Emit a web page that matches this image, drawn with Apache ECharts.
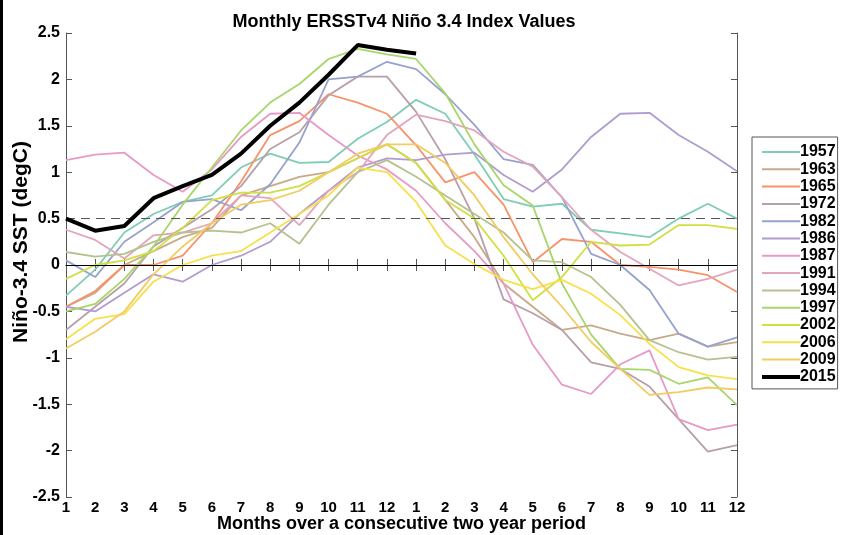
<!DOCTYPE html>
<html>
<head>
<meta charset="utf-8">
<script src="https://cdn.jsdelivr.net/npm/echarts@6/dist/echarts.min.js"></script>
<style>
  html, body { margin: 0; padding: 0; background: #fff; }
  #edge { position: absolute; left: 0; top: 0; width: 3px; height: 535px; background: #000; }
  #chart { width: 845px; height: 535px; }
</style>
</head>
<body>
<div id="chart"></div>
<div id="edge"></div>
<script>
// month index across the two years, and the label printed under each tick
var months = [1,2,3,4,5,6,7,8,9,10,11,12,13,14,15,16,17,18,19,20,21,22,23,24];
var monthLabels = [1,2,3,4,5,6,7,8,9,10,11,12,1,2,3,4,5,6,7,8,9,10,11,12];

var years = ['1957','1963','1965','1972','1982','1986','1987','1991','1994','1997','2002','2006','2009','2015'];
var colors = ['#7fcdb5','#c9a98a','#f7936a','#b7a0a8','#96a3cc','#b09ccf','#e79ac8','#e3a5bd',
              '#b5c290','#a8d66a','#d0e040','#f8e04a','#f2cc60','#000000'];

var v1957 = [-0.33,-0.05,0.35,0.55,0.68,0.75,1.05,1.2,1.1,1.11,1.36,1.54,1.78,1.63,1.19,0.71,0.63,0.66,0.38,0.34,0.3,0.5,0.66,0.5];
var v1963 = [-0.45,-0.3,0.0,0.15,0.3,0.4,0.75,0.85,0.95,1.0,1.15,1.3,1.1,0.7,0.3,-0.2,-0.45,-0.7,-0.65,-0.74,-0.81,-0.74,-0.88,-0.83];
var v1965 = [-0.45,-0.28,0.0,0.0,0.1,0.45,0.9,1.4,1.55,1.84,1.75,1.63,1.29,0.89,1.0,0.65,0.03,0.28,0.25,0.0,-0.02,-0.05,-0.11,-0.29];
var v1972 = [-0.7,-0.45,-0.2,0.2,0.4,0.6,0.85,1.25,1.43,1.83,2.03,2.03,1.65,1.14,0.5,-0.37,-0.52,-0.7,-1.05,-1.12,-1.31,-1.66,-2.01,-1.94];
var v1982 = [0.05,-0.13,0.25,0.46,0.68,0.71,0.59,0.87,1.32,2.0,2.03,2.19,2.11,1.84,1.51,1.14,1.08,0.73,0.12,0.0,-0.27,-0.74,-0.88,-0.78];
var v1986 = [-0.45,-0.5,-0.3,-0.1,-0.18,0.0,0.1,0.25,0.55,0.8,1.05,1.15,1.13,1.19,1.21,0.97,0.79,1.03,1.38,1.63,1.64,1.4,1.22,1.01];
var v1987 = [1.13,1.19,1.21,0.97,0.79,1.03,1.38,1.63,1.64,1.4,1.18,1.03,0.8,0.45,0.15,-0.2,-0.86,-1.29,-1.39,-1.07,-0.92,-1.66,-1.78,-1.72];
var v1991 = [0.38,0.27,0.07,0.32,0.35,0.45,0.75,0.72,0.43,0.8,1.0,1.4,1.62,1.55,1.45,1.22,1.06,0.73,0.38,0.14,-0.04,-0.22,-0.15,-0.05];
var v1994 = [0.14,0.09,0.12,0.25,0.35,0.37,0.35,0.45,0.23,0.65,1.0,1.13,0.95,0.75,0.55,0.35,0.05,0.03,-0.13,-0.43,-0.81,-0.94,-1.02,-0.99];
var v1997 = [-0.5,-0.42,-0.15,0.2,0.65,1.05,1.45,1.75,1.95,2.22,2.33,2.27,2.22,1.85,1.3,0.86,0.64,-0.2,-0.75,-1.12,-1.13,-1.28,-1.21,-1.51];
var v2002 = [-0.15,0.0,0.05,0.15,0.4,0.7,0.78,0.78,0.85,1.0,1.15,1.3,1.1,0.7,0.5,0.1,-0.38,-0.13,0.25,0.21,0.22,0.43,0.43,0.39];
var v2006 = [-0.8,-0.58,-0.53,-0.18,0.0,0.1,0.15,0.35,0.55,0.75,1.05,1.0,0.68,0.21,0.01,-0.16,-0.26,-0.16,-0.31,-0.54,-0.85,-1.1,-1.19,-1.23];
var v2009 = [-0.9,-0.72,-0.5,-0.1,0.2,0.45,0.65,0.7,0.8,1.0,1.2,1.3,1.3,1.1,0.75,0.3,-0.1,-0.45,-0.83,-1.12,-1.4,-1.37,-1.32,-1.34];
var v2015 = [0.5,0.37,0.42,0.72,0.85,0.97,1.2,1.5,1.75,2.05,2.37,2.32,2.28];

var values = [v1957,v1963,v1965,v1972,v1982,v1986,v1987,v1991,v1994,v1997,v2002,v2006,v2009,v2015];

var yTicks = [-2.5,-2,-1.5,-1,-0.5,0,0.5,1,1.5,2,2.5];
var elNinoThreshold = 0.5;

var font = 'Liberation Sans, Arial, sans-serif';
var chart = echarts.init(document.getElementById('chart'), null, { renderer: 'canvas' });

var series = years.map(function (y, i) {
  return {
    name: y,
    type: 'line',
    symbol: 'none',
    z: y === '2015' ? 5 : 3,
    lineStyle: { color: colors[i], width: y === '2015' ? 4 : 1.8 },
    itemStyle: { color: colors[i] },
    data: values[i].map(function (v, k) { return [months[k], v]; })
  };
});

// zero line and dashed 0.5 threshold
series.push({
  name: 'ref',
  type: 'line',
  data: [],
  markLine: {
    silent: true,
    symbol: 'none',
    label: { show: false },
    data: [
      { yAxis: 0, lineStyle: { color: '#000', type: 'solid', width: 1 } },
      { yAxis: elNinoThreshold, lineStyle: { color: '#555', type: [9, 6], width: 1.2 } }
    ]
  }
});

// thin swatch for the past years, thick one for 2015
var legendItems = years.map(function (y) {
  return y === '2015'
    ? { name: y, icon: 'path://M0,6 L38,6 L38,10 L0,10 Z' }
    : { name: y, icon: 'path://M0,7 L38,7 L38,9 L0,9 Z' };
});

var option = {
  animation: false,
  backgroundColor: '#fff',
  title: {
    text: 'Monthly ERSSTv4 Niño 3.4 Index Values',
    left: 399, top: 8, textAlign: 'center',
    textStyle: { fontFamily: font, fontWeight: 'bold', fontSize: 18, color: '#000' }
  },
  // y axis title, placed by hand because it sits a little above the plot centre
  graphic: [{
    type: 'text',
    x: 21, y: 242,
    rotation: Math.PI / 2,
    style: {
      text: 'Niño-3.4 SST (degC)',
      font: 'bold 21px ' + font,
      fill: '#000',
      align: 'center',
      verticalAlign: 'middle'
    }
  }],
  legend: {
    data: legendItems,
    orient: 'vertical',
    left: 752, top: 137,
    width: 86,
    padding: [7, 2, 4, 10],
    itemGap: 1.3,
    itemWidth: 38, itemHeight: 16,
    borderColor: '#555', borderWidth: 1,
    textStyle: { fontFamily: font, fontWeight: 'bold', fontSize: 16, color: '#000', padding: [0, 0, 0, -5] }
  },
  grid: { left: 66, right: 108, top: 33, bottom: 38, outerBoundsMode: 'none' },
  xAxis: [{
    type: 'value', min: 1, max: 24, interval: 1,
    axisLine: { lineStyle: { color: '#555', width: 1 } },
    axisTick: { inside: true, length: 6, lineStyle: { color: '#555' } },
    splitLine: { show: false },
    axisLabel: {
      fontFamily: font, fontWeight: 'bold', fontSize: 15, color: '#000', margin: 3,
      formatter: function (v) { return monthLabels[months.indexOf(v)]; }
    },
    name: 'Months over a consecutive two year period',
    nameLocation: 'middle', nameGap: 18, nameMoveOverlap: false,
    nameTextStyle: { fontFamily: font, fontWeight: 'bold', fontSize: 18, color: '#000' }
  }, {
    type: 'value', min: 1, max: 24, interval: 1, position: 'top',
    axisLine: { show: true, lineStyle: { color: '#555' } },
    axisTick: { inside: true, length: 6, lineStyle: { color: '#555' } },
    axisLabel: { show: false }, splitLine: { show: false }
  }],
  yAxis: [{
    type: 'value', min: yTicks[0], max: yTicks[yTicks.length - 1], interval: 0.5,
    axisLine: { show: true, lineStyle: { color: '#555' } },
    axisTick: { show: true, inside: true, length: 6, lineStyle: { color: '#555' } },
    splitLine: { show: false },
    axisLabel: { fontFamily: font, fontWeight: 'bold', fontSize: 16, color: '#000', margin: 6 }
  }, {
    type: 'value', min: yTicks[0], max: yTicks[yTicks.length - 1], interval: 0.5, position: 'right',
    axisLine: { show: true, lineStyle: { color: '#555' } },
    axisTick: { show: true, inside: true, length: 6, lineStyle: { color: '#555' } },
    axisLabel: { show: false }, splitLine: { show: false }
  }],
  series: series
};

chart.setOption(option);
</script>
</body>
</html>
